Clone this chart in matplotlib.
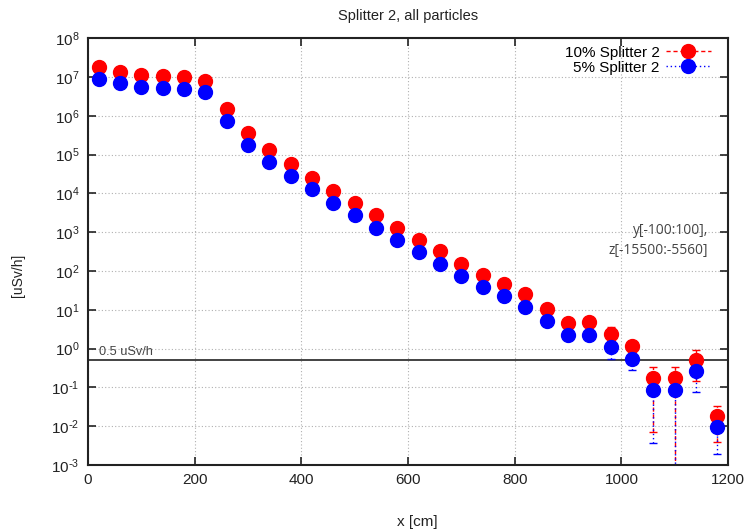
import numpy as np
import matplotlib
matplotlib.use('Agg')
import matplotlib.pyplot as plt
from matplotlib.lines import Line2D
from matplotlib.ticker import FuncFormatter

plt.rcParams['font.family'] = ['Liberation Sans', 'DejaVu Sans']
plt.rcParams['axes.unicode_minus'] = False

# x positions [cm]
x = [20, 60, 100, 140, 180, 220, 260, 300, 340, 380, 420, 460, 500, 540, 580,
     620, 660, 700, 740, 780, 820, 860, 900, 940, 980, 1020, 1060, 1100, 1140, 1180]

# dose rate [uSv/h]
dose_10 = [1.8e7, 1.35e7, 1.1e7, 1.05e7, 1.0e7, 7.8e6, 1.5e6, 3.5e5, 1.3e5, 5.6e4,
           2.5e4, 1.15e4, 5.5e3, 2.7e3, 1.3e3, 6.3e2, 3.2e2, 1.5e2, 78, 45,
           25, 10.6, 4.6, 4.7, 2.35, 1.15, 0.17, 0.17, 0.5, 0.018]
dose_5 = [8.7e6, 6.9e6, 5.5e6, 5.2e6, 4.9e6, 4.0e6, 7.2e5, 1.75e5, 6.3e4, 2.8e4,
          1.3e4, 5.8e3, 2.7e3, 1.27e3, 6.3e2, 3.1e2, 1.5e2, 76, 39, 22,
          12, 5.1, 2.3, 2.3, 1.07, 0.53, 0.085, 0.085, 0.26, 0.0094]

# error bands on the last points (lower / upper bound)
err_x = [980, 1020, 1060, 1100, 1140, 1180]
err_10_lo = [1.6, 0.9, 0.007, 1e-5, 0.15, 0.0039]
err_10_hi = [3.5, 1.4, 0.33, 0.33, 0.9, 0.033]
err_5_lo = [0.55, 0.28, 0.0036, 1e-5, 0.075, 0.0019]
err_5_hi = [1.6, 0.8, 0.16, 0.16, 0.45, 0.017]

limit = 0.5

fig = plt.figure(figsize=(7.46, 5.29), dpi=100)
ax = fig.add_axes([0.118, 0.121, 0.858, 0.807])

def errbars(vals, lo, hi, color, ls):
    y = [vals[x.index(e)] for e in err_x]
    yerr = [np.array(y) - np.array(lo), np.array(hi) - np.array(y)]
    eb = ax.errorbar(err_x, y, yerr=yerr, fmt='none', ecolor=color, elinewidth=1,
                     capsize=3, capthick=1, zorder=2)
    eb[2][0].set_linestyle(ls)

errbars(dose_10, err_10_lo, err_10_hi, 'red', (0, (3, 2)))
errbars(dose_5, err_5_lo, err_5_hi, 'blue', (0, (1, 2)))

ax.plot(x, dose_10, 'o', color='red', markersize=10, zorder=3)
ax.plot(x, dose_5, 'o', color='blue', markersize=10, zorder=4)

ax.axhline(limit, color='#222222', lw=1.2, zorder=1)
ax.text(20, 0.82, '0.5 uSv/h', fontsize=9.2, color='#444444', va='center')


def pow_label(v, pos):
    e = int(round(np.log10(v)))
    if e < 0:
        return r'$\mathdefault{10^{\text{-}%d}}$' % (-e)
    return r'$\mathdefault{10^{%d}}$' % e


ax.set_yscale('log')
ax.set_xlim(0, 1200)
ax.set_ylim(1e-3, 1e8)
ax.set_yticks([10.0 ** k for k in range(-3, 9)])
ax.yaxis.set_major_formatter(FuncFormatter(pow_label))
ax.minorticks_off()
ax.set_xticks(range(0, 1201, 200))
ax.tick_params(direction='in', length=6, width=1.2, top=True, right=True,
               labelsize=11, colors='#222222', pad=6)
ax.grid(True, color='#b0b0b0', linestyle=(0, (1, 2)), lw=0.8)
for s in ax.spines.values():
    s.set_linewidth(1.5)
    s.set_color('#222222')

ax.set_title('Splitter 2, all particles', fontsize=10.5, pad=13, color='#222222')
ax.set_xlabel('x [cm]', fontsize=11, color='#222222')
ax.xaxis.set_label_coords(0.514, -0.118)
fig.text(0.024, 0.48, '[uSv/h]', rotation=90, fontsize=10, va='center',
         ha='center', color='#222222')

ax.text(0.969, 0.525, 'y[-100:100],\nz[-15500:-5560]', transform=ax.transAxes,
        ha='right', va='center', fontsize=9.9, color='#444444', linespacing=1.45,
        family=['Open Sans', 'DejaVu Sans'])

handles = [Line2D([], [], color='red', marker='o', markersize=10, lw=1, ls=(0, (3, 2))),
           Line2D([], [], color='blue', marker='o', markersize=10, lw=1, ls=(0, (1, 2)))]
ax.legend(handles, ['10% Splitter 2', '5% Splitter 2'], loc='upper right',
          bbox_to_anchor=(1 - 6 / 640, 1 + 3 / 427),
          frameon=False, markerfirst=False, fontsize=11, handlelength=3,
          labelspacing=0.05, borderaxespad=0.3, handletextpad=0.4)

fig.savefig('out.png', dpi=100)
